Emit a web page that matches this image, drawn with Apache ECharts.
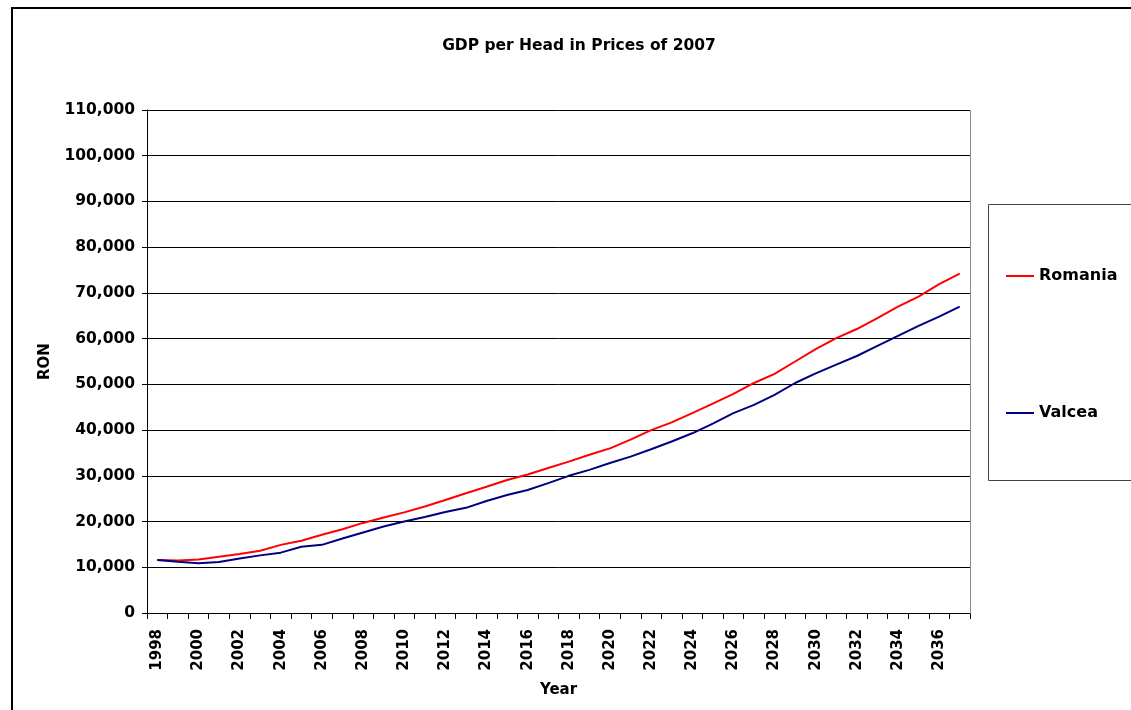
<!DOCTYPE html>
<html>
<head>
<meta charset="utf-8">
<script src="https://cdn.jsdelivr.net/npm/echarts@6/dist/echarts.min.js"></script>
<style>html,body{margin:0;padding:0;background:#fff;}#c{width:1131px;height:710px;}</style>
</head>
<body>
<div id="c"></div>
<script>
var years = [];
for (var y = 1998; y <= 2037; y++) years.push(String(y));
var romania = [11600, 11500, 11700, 12300, 12900, 13600, 14900, 15800, 17100, 18300,
  19700, 20900, 22000, 23300, 24700, 26200, 27600, 29100, 30300, 31700,
  33100, 34600, 36000, 37900, 40000, 41700, 43700, 45800, 47900, 50300,
  52300, 55000, 57700, 60100, 62100, 64500, 67000, 69200, 71900, 74200];
var valcea = [11600, 11200, 10900, 11150, 11900, 12600, 13200, 14500, 14900, 16300,
  17600, 18900, 20000, 21000, 22100, 23000, 24500, 25800, 26900, 28400,
  30000, 31300, 32800, 34200, 35800, 37500, 39300, 41400, 43700, 45500,
  47700, 50300, 52400, 54300, 56200, 58400, 60600, 62800, 64800, 67000];
var yTicks = { min: 0, max: 110000, interval: 10000 };

var font = '"DejaVu Sans", Arial, sans-serif';
var chart = echarts.init(document.getElementById('c'));
chart.setOption({
  backgroundColor: '#fff',
  animation: false,
  title: {
    text: 'GDP per Head in Prices of 2007',
    left: 579, top: 38, textAlign: 'center', padding: 0,
    textStyle: { fontFamily: font, fontSize: 15.5, fontWeight: 'bold', color: '#000' }
  },
  graphic: [
    { type: 'rect', shape: { x: 12, y: 8, width: 1200, height: 800 },
      style: { fill: 'none', stroke: '#000', lineWidth: 2 }, z: 100 },
    { type: 'rect', shape: { x: 988.5, y: 204.5, width: 200, height: 276 },
      style: { fill: 'none', stroke: '#444', lineWidth: 1 }, z: 100 },
    { type: 'rect', shape: { x: 970.5, y: 110.5, width: 0, height: 503 },
      style: { fill: 'none', stroke: '#888', lineWidth: 1 }, z: 100 }
  ],
  legend: {
    orient: 'vertical',
    left: 1006, top: 268,
    padding: 0,
    itemGap: 121,
    itemWidth: 28, itemHeight: 2,
    icon: 'rect',
    textStyle: { fontFamily: font, fontSize: 16, lineHeight: 16, fontWeight: 'bold', color: '#000' },
    data: ['Romania', 'Valcea']
  },
  grid: { left: 147, right: 161, top: 110, bottom: 97, containLabel: false },
  xAxis: {
    type: 'category',
    data: years,
    boundaryGap: true,
    name: 'Year',
    nameLocation: 'middle',
    nameGap: 70,
    nameTextStyle: { fontFamily: font, fontSize: 15, fontWeight: 'bold', color: '#000' },
    axisLine: { lineStyle: { color: '#000', width: 1 } },
    axisTick: { show: true, interval: 0, length: 6, lineStyle: { color: '#000' } },
    axisLabel: { interval: 1, rotate: 90, margin: 16, fontFamily: font, fontSize: 15, fontWeight: 'bold', color: '#000' },
    splitLine: { show: false }
  },
  yAxis: {
    type: 'value',
    min: yTicks.min, max: yTicks.max, interval: yTicks.interval,
    name: 'RON',
    nameLocation: 'middle',
    nameGap: 94,
    nameRotate: 90,
    nameTextStyle: { fontFamily: font, fontSize: 15, fontWeight: 'bold', color: '#000' },
    axisLine: { show: true, lineStyle: { color: '#000', width: 1 } },
    axisTick: { show: true, length: 5, lineStyle: { color: '#000' } },
    axisLabel: {
      margin: 12, fontFamily: font, fontSize: 15.5, fontWeight: 'bold', color: '#000',
      formatter: function (v) { return v.toLocaleString('en-US'); }
    },
    splitLine: { show: true, lineStyle: { color: '#000', width: 1 } }
  },
  series: [
    { name: 'Romania', type: 'line', data: romania, symbol: 'none', showSymbol: false,
      lineStyle: { color: '#FF0000', width: 2 }, itemStyle: { color: '#FF0000' } },
    { name: 'Valcea', type: 'line', data: valcea, symbol: 'none', showSymbol: false,
      lineStyle: { color: '#000080', width: 2 }, itemStyle: { color: '#000080' } }
  ]
});
</script>
</body>
</html>
